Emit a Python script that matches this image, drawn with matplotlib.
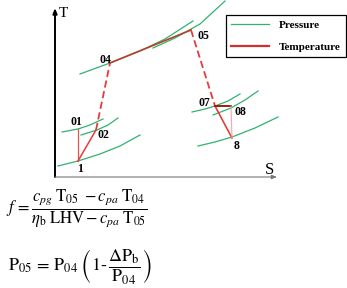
"""T-S diagram of a gas-turbine cycle with two fuel / pressure-loss equations."""
import matplotlib
matplotlib.use("Agg")
import matplotlib.pyplot as plt

plt.rcParams["mathtext.fontset"] = "stix"
plt.rcParams["font.family"] = ["Liberation Serif", "DejaVu Serif"]

# state points (schematic S, T units)
point_names = ["1", "01", "02", "04", "05", "07", "08", "8"]
point_s = [23, 23, 41, 55, 136, 160, 176, 177]
point_t = [16, 48, 47, 114, 147, 71, 71, 39]

# isobars
iso_1_s = [3, 23, 45, 65, 85]
iso_1_t = [11, 16, 23, 31, 42]
iso_01_s = [7, 23, 35, 48]
iso_01_t = [45, 48, 52, 58]
iso_02_s = [26, 42, 53, 63]
iso_02_t = [42, 47, 52, 59]
iso_04_s = [25, 55, 85, 110, 138]
iso_04_t = [103, 114, 126, 138, 156]
iso_05_s = [98, 120, 145, 170]
iso_05_t = [129, 139, 153, 176]
iso_07_s = [137, 150, 160, 173, 185]
iso_07_t = [65, 68, 71, 76, 83]
iso_08_s = [158, 176, 190, 203]
iso_08_t = [62, 69, 77, 86]
iso_8_s = [143, 160, 177, 200, 223]
iso_8_t = [31, 35, 40, 49, 60]

isobars = [(iso_1_s, iso_1_t), (iso_01_s, iso_01_t), (iso_02_s, iso_02_t),
           (iso_04_s, iso_04_t), (iso_05_s, iso_05_t), (iso_07_s, iso_07_t),
           (iso_08_s, iso_08_t), (iso_8_s, iso_8_t)]

# process segments between state points
segments = [("1", "01"), ("1", "02"), ("02", "04"), ("04", "05"),
            ("05", "07"), ("07", "8"), ("07", "08"), ("08", "8")]

GREEN = "#2fb36e"
RED = "#e43c3c"

seg_style = {
    ("1", "01"): dict(color="#e05555", lw=0.9, ls="-"),
    ("1", "02"): dict(color=RED, lw=1.1, ls="-"),
    ("02", "04"): dict(color=RED, lw=1.3, ls=(0, (4, 2))),
    ("04", "05"): dict(color="#b8402a", lw=1.2, ls="-"),
    ("05", "07"): dict(color=RED, lw=1.3, ls=(0, (4, 2))),
    ("07", "8"): dict(color=RED, lw=1.2, ls="-"),
    ("07", "08"): dict(color="#a01c10", lw=1.4, ls="-"),
    ("08", "8"): dict(color="#f2a8a8", lw=0.8, ls="-"),
}

# label offsets in points
label_offset = {"1": (1.5, -6), "01": (-1, 5), "02": (5.5, -3.5), "04": (-3.5, 2.5),
                "05": (9, -4), "07": (-8, 2), "08": (7, -4.5), "8": (3, -5.5)}

W, H = 347, 288
fig = plt.figure(figsize=(W / 100, H / 100), dpi=100)
ax = fig.add_axes([55 / W, 1 - 177 / H, 222 / W, 169 / H])
ax.set_xlim(0, 222)
ax.set_ylim(0, 169)
ax.axis("off")

for s_vals, t_vals in isobars:
    ax.plot(s_vals, t_vals, color=GREEN, lw=0.9, clip_on=False, zorder=2)

pos = {n: (s, t) for n, s, t in zip(point_names, point_s, point_t)}
for a, b in segments:
    ax.plot([pos[a][0], pos[b][0]], [pos[a][1], pos[b][1]],
            clip_on=False, zorder=3, **seg_style[(a, b)])

for n in point_names:
    ax.annotate(n, pos[n], xytext=label_offset[n], textcoords="offset points",
                ha="center", va="center", fontsize=8.5, fontweight="bold", zorder=4)

# axes with arrows
ax.annotate("", xy=(0, 1), xytext=(0, 0), xycoords="axes fraction",
            arrowprops=dict(arrowstyle="-|>,head_length=0.3,head_width=0.12",
                            color="black", lw=1.4, shrinkA=0, shrinkB=0))
ax.annotate("", xy=(1, 0), xytext=(0, 0), xycoords="axes fraction",
            arrowprops=dict(arrowstyle="-|>,head_length=0.3,head_width=0.12",
                            color="#777777", lw=0.8, shrinkA=0, shrinkB=0))
ax.text(0.036, 0.965, "T", transform=ax.transAxes, fontsize=11, ha="center", va="center")
ax.text(0.968, 0.04, "S", transform=ax.transAxes, fontsize=12, ha="center", va="center")

# legend
ax.plot([], [], color=GREEN, lw=0.9, label="Pressure")
ax.plot([], [], color="#d23030", lw=1.6, label="Temperature")
leg = ax.legend(loc="upper left", bbox_to_anchor=(226 / W, 1 - 15 / H),
                bbox_transform=fig.transFigure, fancybox=False, edgecolor="black",
                framealpha=1, borderpad=0.45, labelspacing=1.15, handlelength=3.4,
                handletextpad=0.9, borderaxespad=0,
                prop=dict(family="Liberation Serif", weight="bold", size=8))
leg.get_frame().set_linewidth(0.9)

# equations
fig.text(6 / W, 1 - 209 / H,
         r"$f\,=\dfrac{c_{pg}\;\mathrm{T}_{05}\;-c_{pa}\;\mathrm{T}_{04}}"
         r"{\eta_{\mathrm{b}}\;\mathrm{LHV}-c_{pa}\;\mathrm{T}_{05}}$",
         fontsize=12, ha="left", va="center")
fig.text(8 / W, 1 - 266 / H,
         r"$\mathrm{P}_{05}\,=\,\mathrm{P}_{04}\;\left(1\text{-}\,\dfrac{\Delta\mathrm{P}_{\mathrm{b}}}"
         r"{\mathrm{P}_{04}}\right)$",
         fontsize=13, ha="left", va="center")

fig.savefig("out.png", dpi=100)
